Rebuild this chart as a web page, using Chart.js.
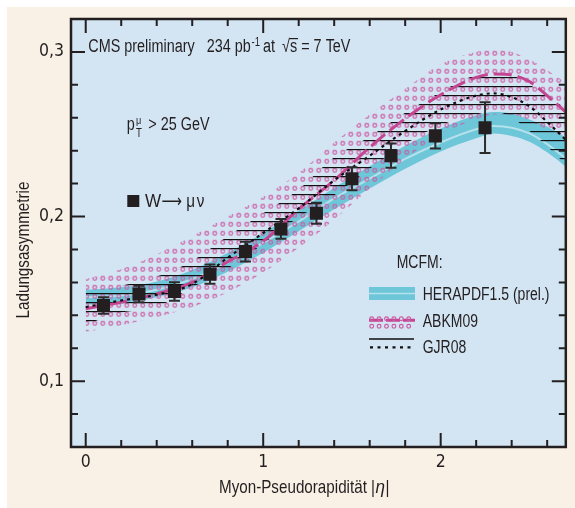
<!DOCTYPE html>
<html><head><meta charset="utf-8">
<script src="https://cdn.jsdelivr.net/npm/chart.js@4.4.1/dist/chart.umd.min.js"></script>
<style>
html,body{margin:0;padding:0;background:#fff;}
#wrap{position:relative;width:575px;height:508px;}
canvas{display:block;}
</style></head><body>
<div id="wrap"><canvas id="c" width="575" height="508"></canvas></div>
<script>
// ---------- data ----------
const etaData  = [0.1, 0.3, 0.5, 0.7, 0.9, 1.1, 1.3, 1.5, 1.72, 1.97, 2.25];
const asymData = [0.146, 0.153, 0.1545, 0.165, 0.1787, 0.1925, 0.202, 0.223, 0.237, 0.249, 0.254];
const asymErr  = [0.005, 0.005, 0.0056, 0.0058, 0.006, 0.006, 0.0064, 0.007, 0.0073, 0.0077, 0.0154];

const bandEta = [0, 0.2, 0.4, 0.6, 0.8, 1.0, 1.2, 1.4, 1.6, 1.8, 2.0, 2.2, 2.3, 2.4, 2.5, 2.6, 2.72];
// HERAPDF1.5 (prel.)
const heraUp  = [0.1555, 0.157, 0.1605, 0.1675, 0.178, 0.190, 0.2035, 0.2175, 0.2305, 0.243, 0.2535, 0.2615, 0.2635, 0.2625, 0.259, 0.2545, 0.247];
const heraLo  = [0.1465, 0.1475, 0.151, 0.157, 0.1665, 0.178, 0.191, 0.2045, 0.217, 0.229, 0.2395, 0.2475, 0.2505, 0.249, 0.2455, 0.239, 0.229];
const heraCen = [0.151, 0.152, 0.1555, 0.162, 0.172, 0.184, 0.197, 0.211, 0.223, 0.235, 0.245, 0.253, 0.255, 0.254, 0.2505, 0.244, 0.234];
// ABKM09
const abkmUp  = [0.162, 0.168, 0.177, 0.188, 0.200, 0.212, 0.2265, 0.245, 0.262, 0.2775, 0.2925, 0.300, 0.3015, 0.300, 0.2955, 0.289, 0.280];
const abkmLo  = [0.130, 0.134, 0.139, 0.145, 0.154, 0.166, 0.181, 0.198, 0.217, 0.235, 0.250, 0.259, 0.262, 0.262, 0.258, 0.253, 0.248];
const abkmCen = [0.144, 0.148, 0.153, 0.160, 0.1725, 0.185, 0.2045, 0.222, 0.242, 0.2595, 0.274, 0.2845, 0.2866, 0.286, 0.282, 0.2735, 0.262];
// GJR08
const gjrUp   = [0.155, 0.158, 0.1635, 0.173, 0.188, 0.202, 0.2165, 0.236, 0.2485, 0.263, 0.2757, 0.286, 0.287, 0.286, 0.280, 0.274, 0.264];
const gjrLo   = [0.1345, 0.1415, 0.145, 0.157, 0.1685, 0.1835, 0.1995, 0.213, 0.229, 0.244, 0.2555, 0.262, 0.264, 0.260, 0.252, 0.2425, 0.230];
const gjrCen  = [0.145, 0.149, 0.1525, 0.159, 0.175, 0.19, 0.205, 0.222, 0.237, 0.252, 0.265, 0.2735, 0.2748, 0.2725, 0.267, 0.2575, 0.245];

const xTickValues = [0, 1, 2];
const yTickValues = [0.1, 0.2, 0.3];

// ---------- styles ----------
const TICKFONT = "'DejaVu Sans Condensed','Liberation Sans Narrow','Liberation Sans',sans-serif";
const TXTFONT = "'Liberation Sans','DejaVu Sans',sans-serif";
const INK = '#231f20';
const CYAN = '#6ec6d9', CYAN_LIGHT = '#b4e1eb';
const MAGENTA = '#c44691', DOTPINK = '#cc5aa2';
const PLOT_BG = '#d3e4f3', PAGE_BG = '#f9f0e6';

const cvs = document.getElementById('c');
const mainCtx = cvs.getContext('2d');

function makeDots() {
  const t = document.createElement('canvas'); t.width = 8; t.height = 9;
  const g = t.getContext('2d');
  g.strokeStyle = DOTPINK; g.lineWidth = 1.15;
  g.beginPath(); g.arc(4, 4.5, 1.9, 0, Math.PI * 2); g.stroke();
  const p = mainCtx.createPattern(t, 'repeat');
  if (p.setTransform) p.setTransform(new DOMMatrix().translate(2.7, 3.8));
  return p;
}
function makeHatch() {
  const t = document.createElement('canvas'); t.width = 4; t.height = 9;
  const g = t.getContext('2d');
  g.fillStyle = '#111'; g.fillRect(0, 5, 4, 1.2);
  return mainCtx.createPattern(t, 'repeat');
}
const dotsPattern = makeDots();
const hatchPattern = makeHatch();

const toXY = ys => bandEta.map((x, i) => ({ x, y: ys[i] }));
const NONE = 'rgba(0,0,0,0)';
const bandLine = { type: 'line', pointRadius: 0, borderWidth: 1, borderColor: NONE,
  cubicInterpolationMode: 'monotone', fill: false };

// ---------- text helper (narrow rendition of Liberation Sans) ----------
function narrow(ctx, s, x, y, size, opts = {}) {
  ctx.save();
  ctx.font = `${opts.italic ? 'italic ' : ''}${size}px ${opts.family || TXTFONT}`;
  ctx.fillStyle = INK;
  ctx.textBaseline = 'alphabetic';
  ctx.textAlign = 'left';
  const natural = ctx.measureText(s).width;
  const sx = opts.width ? opts.width / natural : (opts.sx || 0.8);
  ctx.translate(x, y);
  ctx.scale(sx, 1);
  ctx.fillText(s, 0, 0);
  ctx.restore();
  return natural * sx;
}

const decorPlugin = {
  id: 'decor',
  beforeDraw(chart) {
    const ctx = chart.ctx, a = chart.chartArea;
    ctx.save();
    ctx.fillStyle = '#fff'; ctx.fillRect(0, 0, chart.width, chart.height);
    ctx.fillStyle = PAGE_BG; ctx.fillRect(7, 7, chart.width - 7, chart.height - 7);
    ctx.fillStyle = PLOT_BG; ctx.fillRect(a.left, a.top, a.right - a.left, a.bottom - a.top);
    ctx.restore();
  },
  beforeDatasetDraw(chart, args) {
    if (args.index !== 0) return;
    const ctx = chart.ctx, xs = chart.scales.x, ys = chart.scales.y;
    ctx.save();
    ctx.strokeStyle = '#2b2b2b'; ctx.lineWidth = 2;
    etaData.forEach((e, i) => {
      const px = xs.getPixelForValue(e);
      const y1 = ys.getPixelForValue(asymData[i] + asymErr[i]);
      const y2 = ys.getPixelForValue(asymData[i] - asymErr[i]);
      ctx.beginPath();
      ctx.moveTo(px, y1); ctx.lineTo(px, y2);
      ctx.moveTo(px - 5.5, y1); ctx.lineTo(px + 5.5, y1);
      ctx.moveTo(px - 5.5, y2); ctx.lineTo(px + 5.5, y2);
      ctx.stroke();
    });
    ctx.restore();
  },
  afterDraw(chart) {
    const ctx = chart.ctx, a = chart.chartArea, xs = chart.scales.x, ys = chart.scales.y;
    ctx.save();
    // inward ticks on all four sides
    ctx.strokeStyle = INK; ctx.lineWidth = 2;
    for (let i = 0; i <= 13; i++) {
      const v = i * 0.2, major = Math.abs(v - Math.round(v)) < 1e-6;
      const L = major ? 14 : 7, px = xs.getPixelForValue(v);
      ctx.beginPath();
      ctx.moveTo(px, a.bottom); ctx.lineTo(px, a.bottom - L);
      ctx.moveTo(px, a.top); ctx.lineTo(px, a.top + L);
      ctx.stroke();
    }
    for (let i = 4; i <= 15; i++) {
      const v = i * 0.02, major = Math.abs(v * 10 - Math.round(v * 10)) < 1e-6;
      const L = major ? 14 : 7, py = ys.getPixelForValue(v);
      ctx.beginPath();
      ctx.moveTo(a.left, py); ctx.lineTo(a.left + L, py);
      ctx.moveTo(a.right, py); ctx.lineTo(a.right - L, py);
      ctx.stroke();
    }
    ctx.lineWidth = 2.5;
    ctx.strokeRect(a.left, a.top, a.right - a.left, a.bottom - a.top);

    // header: CMS preliminary  234 pb^-1 at sqrt(s) = 7 TeV
    let x = 88.3;
    x += narrow(ctx, 'CMS preliminary', x, 52, 18) + 12;
    x += narrow(ctx, '234 pb', x, 52, 18) + 0.8;
    x += narrow(ctx, '-1', x, 45.5, 12) + 3;
    x += narrow(ctx, 'at', x, 52, 18) + 7;
    x += narrow(ctx, '\u221A', x, 52, 18);
    const sx0 = x;
    x += narrow(ctx, 's', x, 52, 18);
    ctx.strokeStyle = INK; ctx.lineWidth = 1.2;
    ctx.beginPath(); ctx.moveTo(sx0 - 0.8, 38.6); ctx.lineTo(x + 0.8, 38.6); ctx.stroke();
    narrow(ctx, ' = 7 TeV', x, 52, 18);

    // p_T^mu > 25 GeV
    narrow(ctx, 'p', 126.7, 130, 18);
    narrow(ctx, '\u03BC', 136, 123.5, 11.5);
    narrow(ctx, 'T', 136, 137, 12);
    narrow(ctx, '> 25 GeV', 148.3, 130, 18);

    // W -> mu nu
    ctx.fillStyle = INK; ctx.fillRect(127.3, 195, 12, 12);
    narrow(ctx, 'W', 145, 207, 18, { sx: 0.95 });
    narrow(ctx, '\u27F6', 161.5, 207, 18, { width: 20.5, family: "'DejaVu Sans',sans-serif" });
    narrow(ctx, '\u03BC', 186.2, 207, 18, { sx: 0.85 });
    narrow(ctx, '\u03BD', 196.7, 207, 18, { sx: 0.85 });

    // legend
    narrow(ctx, 'MCFM:', 396.7, 268.3, 17.5);
    ctx.fillStyle = CYAN; ctx.fillRect(369, 287, 46, 13);
    ctx.strokeStyle = CYAN_LIGHT; ctx.lineWidth = 1.5;
    ctx.beginPath(); ctx.moveTo(369, 293.5); ctx.lineTo(415, 293.5); ctx.stroke();
    narrow(ctx, 'HERAPDF1.5 (prel.)', 422.7, 300, 17.5);

    ctx.strokeStyle = MAGENTA; ctx.lineWidth = 3; ctx.setLineDash([14, 3]);
    ctx.beginPath(); ctx.moveTo(369, 320.3); ctx.lineTo(415, 320.3); ctx.stroke();
    ctx.setLineDash([]);
    ctx.strokeStyle = DOTPINK; ctx.lineWidth = 1.15;
    for (let k = 0; k < 6; k++) {
      const cx = 371.7 + k * 7.4;
      ctx.beginPath(); ctx.arc(cx, 318.8, 1.9, 0, Math.PI * 2); ctx.stroke();
      ctx.beginPath(); ctx.arc(cx, 326.3, 1.9, 0, Math.PI * 2); ctx.stroke();
    }
    narrow(ctx, 'ABKM09', 422.7, 327.3, 17.5);

    ctx.strokeStyle = '#111'; ctx.lineWidth = 1.5;
    ctx.beginPath(); ctx.moveTo(369, 339); ctx.lineTo(414, 339); ctx.stroke();
    ctx.lineWidth = 2.2; ctx.setLineDash([3, 4.5]);
    ctx.beginPath(); ctx.moveTo(370, 347.3); ctx.lineTo(414, 347.3); ctx.stroke();
    ctx.setLineDash([]);
    narrow(ctx, 'GJR08', 422.7, 353.3, 17.5);

    // y-axis title
    ctx.save();
    ctx.font = `19px ${TXTFONT}`;
    const yw = ctx.measureText('Ladungsasymmetrie').width * 0.8;
    ctx.translate(28.5, 250 + yw / 2); ctx.rotate(-Math.PI / 2);
    narrow(ctx, 'Ladungsasymmetrie', 0, 0, 19);
    ctx.restore();

    // x-axis title
    let tx = 219;
    tx += narrow(ctx, 'Myon-Pseudorapidit\u00E4t |', tx, 493, 19) + 0.5;
    tx += narrow(ctx, '\u03B7', tx, 493, 19, { italic: true, sx: 0.9 }) + 0.5;
    narrow(ctx, '|', tx, 493, 19);
    ctx.restore();
  }
};

new Chart(cvs, {
  type: 'line',
  data: {
    datasets: [
      { type: 'line', label: 'W \u2192 \u03BC\u03BD', data: etaData.map((x, i) => ({ x, y: asymData[i] })),
        showLine: false, pointStyle: 'rect', pointRadius: 9.2, pointBackgroundColor: INK,
        pointBorderWidth: 0, backgroundColor: INK, borderColor: INK, order: 0 },
      { ...bandLine, label: 'GJR08', data: toXY(gjrCen), borderColor: '#111', borderWidth: 2.2,
        borderDash: [3, 4], order: 1 },
      { ...bandLine, label: 'ABKM09', data: toXY(abkmCen), borderColor: MAGENTA, borderWidth: 3,
        borderDash: [18, 6], order: 2 },
      { ...bandLine, label: 'GJR08 band', data: toXY(gjrUp), fill: '+1', backgroundColor: hatchPattern, order: 3 },
      { ...bandLine, label: 'GJR08 low', data: toXY(gjrLo), order: 4 },
      { ...bandLine, label: 'ABKM09 band', data: toXY(abkmUp), fill: '+1', backgroundColor: dotsPattern, order: 5 },
      { ...bandLine, label: 'ABKM09 low', data: toXY(abkmLo), order: 6 },
      { ...bandLine, label: 'HERAPDF1.5 central', data: toXY(heraCen), borderColor: CYAN_LIGHT, borderWidth: 2, order: 7 },
      { ...bandLine, label: 'HERAPDF1.5 (prel.)', data: toXY(heraUp), fill: '+1', backgroundColor: CYAN, order: 8 },
      { ...bandLine, label: 'HERAPDF1.5 low', data: toXY(heraLo), order: 9 }
    ]
  },
  options: {
    responsive: false, maintainAspectRatio: false, animation: false, events: [],
    layout: { padding: { top: 19, right: 1, left: 0, bottom: 0 } },
    plugins: { legend: { display: false }, tooltip: { enabled: false }, title: { display: false } },
    scales: {
      x: {
        type: 'linear', min: -0.083, max: 2.705,
        grid: { display: false, drawTicks: false }, border: { display: false },
        afterBuildTicks: ax => { ax.ticks = xTickValues.map(v => ({ value: v })); },
        afterFit: ax => { ax.height = 61; },
        ticks: { font: { family: TICKFONT, size: 17.5 }, color: INK, padding: 5, autoSkip: false,
          maxRotation: 0, callback: v => String(v) }
      },
      y: {
        type: 'linear', min: 0.06, max: 0.32,
        grid: { display: false, drawTicks: false }, border: { display: false },
        afterBuildTicks: ax => { ax.ticks = yTickValues.map(v => ({ value: v })); },
        afterFit: ax => { ax.width = 71; },
        ticks: { font: { family: TICKFONT, size: 17.5 }, color: INK, padding: 7, autoSkip: false,
          callback: v => v.toFixed(1).replace('.', ',') }
      }
    }
  },
  plugins: [decorPlugin]
});
</script>
</body></html>
